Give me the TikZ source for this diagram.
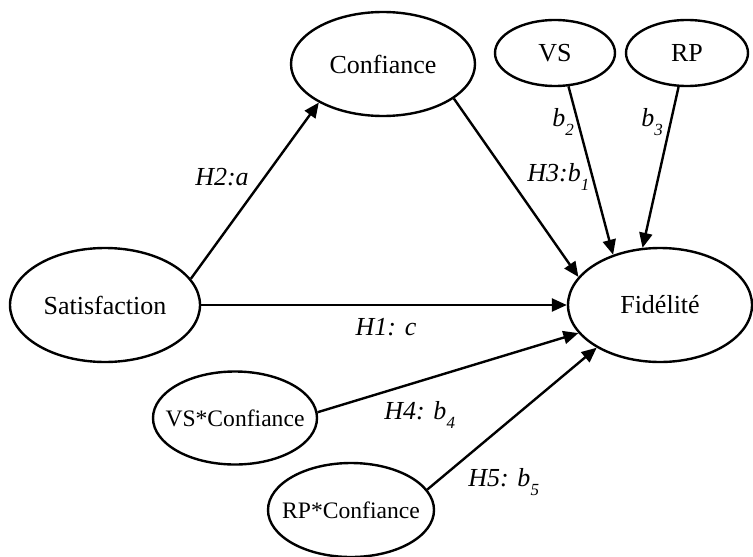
\documentclass[tikz,border=0pt]{standalone}
\usepackage{fontspec}
\setmainfont{Liberation Serif}
\usetikzlibrary{shapes.geometric,arrows.meta,positioning}
\newcommand{\lowsub}[1]{\raisebox{-4.5pt}{\fontsize{8.5}{9}\selectfont #1}}

\begin{document}
\begin{tikzpicture}[x=0.5pt, y=-0.5pt, font=\fontsize{13}{15}\selectfont,
    latent/.style={draw, ellipse, line width=1.2pt, inner sep=0pt,
        execute at begin node={\hbox to 0pt\bgroup\hss},
        execute at end node={\hss\egroup}},
    inter/.style={latent, font=\fontsize{11.8}{14}\selectfont},
    pth/.style={line width=1.2pt, -{Triangle[length=7.5pt,width=6.5pt]}},
    lbl/.style={font=\fontsize{13}{15}\selectfont\itshape, inner sep=0pt}]
    \useasboundingbox (0,0) rectangle (753,556);

    \node [latent, minimum width=95pt, minimum height=57pt] (sat) at (105,305) {Satisfaction};
    \node [latent, minimum width=92pt, minimum height=52pt] (conf) at (383,64) {Confiance};
    \node [latent, minimum width=92pt, minimum height=57pt] (fid) at (660,305) {Fidélité};
    \node [latent, minimum width=60pt, minimum height=33pt] (vs) at (555,53) {VS};
    \node [latent, minimum width=61pt, minimum height=33pt] (rp) at (687,53) {RP};
    \node [inter, minimum width=82pt, minimum height=46.5pt] (vsconf) at (235,418) {VS*Confiance};
    \node [inter, minimum width=83pt, minimum height=47pt] (rpconf) at (351,510) {RP*Confiance};

    \draw [pth] (sat.17) -- (conf.-149);
    \draw [pth] (conf.-26) -- (fid.161);
    \draw [pth] (vs.-68) -- (fid.133);
    \draw [pth] (rp.-104) -- (fid.107);
    \draw [pth] (sat.east) -- (fid.west);
    \draw [pth] (vsconf.4) -- (fid.199);
    \draw [pth] (rpconf.15) -- (fid.214);

    \node [lbl] (lh2) at (222,177) {H2:a};
    \node [lbl, anchor=west] (lh3) at (527,177) {H3:b\lowsub{1}};
    \node [lbl] (lb2) at (563,122) {b\lowsub{2}};
    \node [lbl] (lb3) at (652,122) {b\lowsub{3}};
    \node [lbl] (lh1) at (386,327) {H1: c};
    \node [lbl, anchor=west] (lh4) at (384,415) {H4: b\lowsub{4}};
    \node [lbl, anchor=west] (lh5) at (468,482) {H5: b\lowsub{5}};
\end{tikzpicture}
\end{document}
